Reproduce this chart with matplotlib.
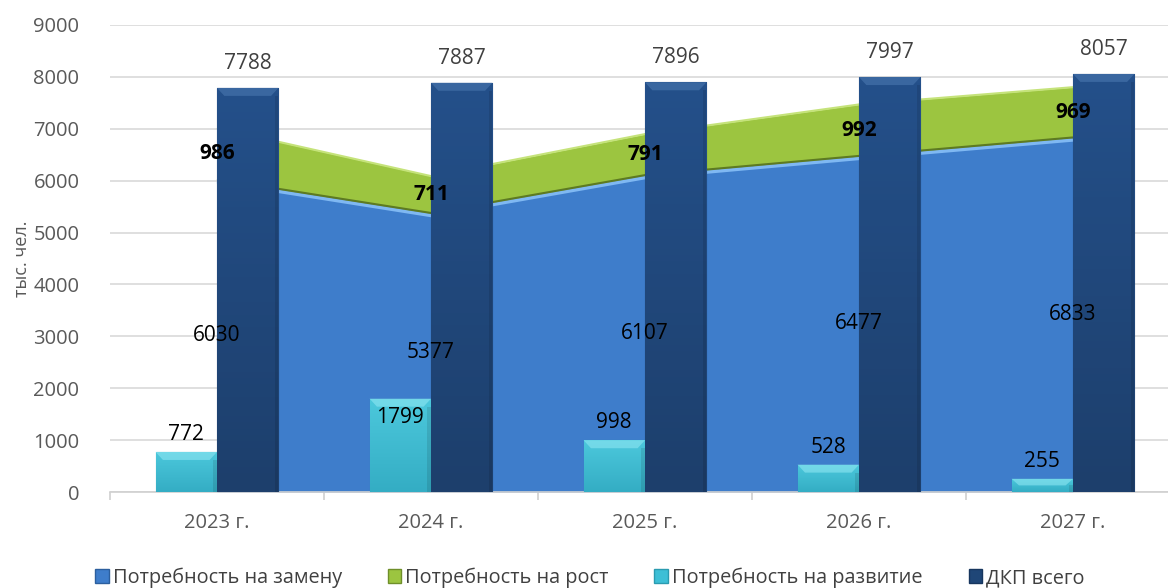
import numpy as np
import matplotlib
matplotlib.use("Agg")
import matplotlib.pyplot as plt
from matplotlib.patches import Polygon, Rectangle
from matplotlib.colors import LinearSegmentedColormap

plt.rcParams['font.family'] = ['Open Sans', 'DejaVu Sans']

years = ['2023 г.', '2024 г.', '2025 г.', '2026 г.', '2027 г.']
replacement = [6030, 5377, 6107, 6477, 6833]   # Потребность на замену
growth = [986, 711, 791, 992, 969]             # Потребность на рост
development = [772, 1799, 998, 528, 255]       # Потребность на развитие
total = [7788, 7887, 7896, 7997, 8057]         # ДКП всего

series_names = ['Потребность на замену', 'Потребность на рост',
                'Потребность на развитие', 'ДКП всего']

C_BLUE = '#3e7dcb'
C_GREEN = '#9cc540'
C_CYAN = '#3dbfd6'
C_DARK = '#1f4677'
TXT = '#404040'


def shade_bar(ax, bar, top_col, bot_col, bevel_col, edge_col, px_per_y):
    x, y = bar.get_x(), bar.get_y()
    w, h = bar.get_width(), bar.get_height()
    cmap = LinearSegmentedColormap.from_list('g', [bot_col, top_col])
    grad = np.linspace(0, 1, 64).reshape(-1, 1)
    im = ax.imshow(grad, cmap=cmap, aspect='auto', origin='lower',
                   extent=(x, x + w, y, y + h), zorder=bar.get_zorder())
    im.set_clip_path(bar)
    bar.set_facecolor('none')
    bar.set_edgecolor(edge_col)
    bar.set_linewidth(0.8)
    # top bevel
    bh = min(8 / px_per_y, h * 0.5)
    bw = w * 0.12
    ax.add_patch(Polygon([(x, y + h), (x + w, y + h), (x + w - bw, y + h - bh),
                          (x + bw, y + h - bh)], closed=True, facecolor=bevel_col,
                         edgecolor='none', alpha=0.6, zorder=bar.get_zorder() + 0.1))
    # side darkening
    ax.add_patch(Rectangle((x + w - bw * 0.5, y), bw * 0.5, h - bh, facecolor='black',
                           alpha=0.1, edgecolor='none', zorder=bar.get_zorder() + 0.1))


def main():
    fig = plt.figure(figsize=(11.68, 5.88), dpi=100)
    ax = fig.add_axes([110 / 1168, 1 - 492 / 588, 1070 / 1168, 467 / 588])
    ax.set_xlim(-0.5, len(years) - 0.5)
    ax.set_ylim(0, 9000)
    px_per_y = 467 / 9000

    x = np.arange(len(years))
    rep = np.array(replacement)
    top = rep + np.array(growth)

    ax.set_yticks(range(0, 9001, 1000))
    ax.yaxis.grid(True, color='#d9d9d9', linewidth=1.2)
    ax.set_axisbelow(True)
    for s in ['top', 'right', 'left']:
        ax.spines[s].set_visible(False)
    ax.spines['bottom'].set_color('#d0d0d0')
    ax.spines['bottom'].set_linewidth(1.2)

    # stacked areas
    ax.fill_between(x, 0, rep, color=C_BLUE, zorder=2, linewidth=0)
    ax.fill_between(x, rep, top, color=C_GREEN, zorder=2, linewidth=0)
    ax.plot(x, top, color='#c5e37a', linewidth=1.5, zorder=2.2, solid_capstyle='butt')
    ax.plot(x, rep, color='#5d7a22', linewidth=1.5, zorder=2.2, solid_capstyle='butt')
    ax.plot(x, rep - 2.5 / px_per_y, color='#7fb8f2', linewidth=2.5, zorder=2.1,
            solid_capstyle='butt')

    width = 0.287
    b_dev = ax.bar(x - width / 2, development, width, zorder=3)
    b_tot = ax.bar(x + width / 2, total, width, zorder=3)
    for b in b_dev:
        shade_bar(ax, b, '#4cc8dc', '#34adc4', '#8ee6f2', '#2a9bb0', px_per_y)
    for b in b_tot:
        shade_bar(ax, b, '#24508a', '#1d3f6c', '#4a78b0', '#17365e', px_per_y)

    # labels
    fs = 15
    for i in range(len(years)):
        ax.annotate(str(total[i]), (x[i] + width / 2, total[i]), xytext=(0, 10),
                    textcoords='offset points', ha='center', va='bottom',
                    fontsize=fs, color=TXT, zorder=5)
        dy = -6 if development[i] == max(development) else 5
        ax.annotate(str(development[i]), (x[i] - width / 2, development[i]),
                    xytext=(0, dy), textcoords='offset points', ha='center',
                    va='top' if dy < 0 else 'bottom', fontsize=fs, color='black', zorder=5)
        ax.text(x[i], rep[i] / 2, str(replacement[i]), ha='center', va='center',
                fontsize=fs, color='black', zorder=5)
        ax.text(x[i], rep[i] + growth[i] / 2, str(growth[i]), ha='center', va='center',
                fontsize=fs, color='black', fontweight='bold', zorder=5)

    ax.set_xticks(x)
    ax.set_xticklabels(years, fontsize=14.5, color='#595959')
    ax.set_xticks(np.arange(-0.5, len(years), 1), minor=True)
    ax.tick_params(axis='x', which='major', length=0, pad=15)
    ax.tick_params(axis='x', which='minor', length=6, color='#d0d0d0', width=1.2)
    ax.tick_params(axis='y', length=0, labelsize=14.5, labelcolor='#595959', pad=22)
    ax.set_ylabel('тыс. чел.', fontsize=13, color='#595959', labelpad=2)

    handles = [Rectangle((0, 0), 1, 1, facecolor=c, edgecolor=e) for c, e in
               [(C_BLUE, '#2c5f9e'), (C_GREEN, '#6f8f2a'), (C_CYAN, '#2a9bb0'), (C_DARK, '#17365e')]]
    fig.legend(handles, series_names, loc='center', bbox_to_anchor=(0.505, 1 - 578 / 588),
               ncol=4, frameon=False, fontsize=14.3, handlelength=0.7, handleheight=0.7,
               handletextpad=0.2, columnspacing=2.3, labelcolor=TXT)

    fig.savefig('out.png', dpi=100)


if __name__ == '__main__':
    main()
